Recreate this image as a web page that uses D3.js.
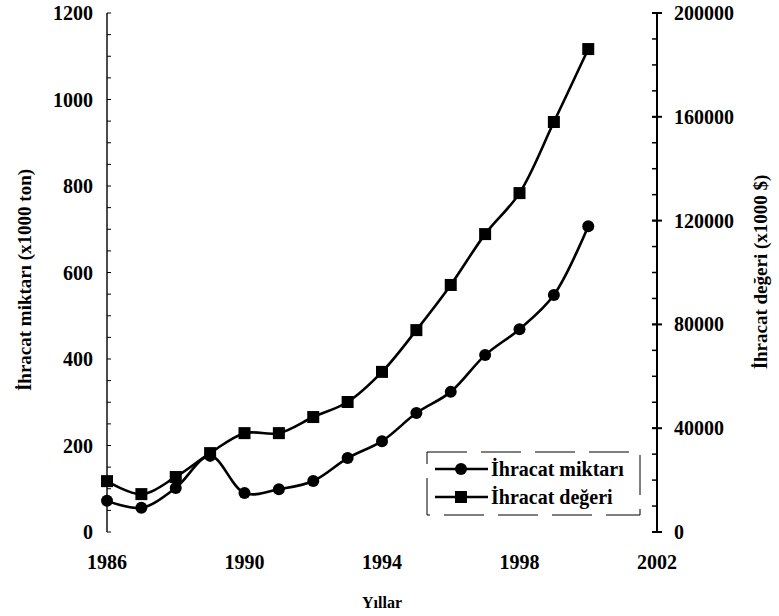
<!DOCTYPE html>
<html>
<head>
<meta charset="utf-8">
<script src="https://cdn.jsdelivr.net/npm/d3@7"></script>
<style>
  html, body { margin: 0; padding: 0; background: #fff; }
  svg { display: block; }
  text { font-family: "Liberation Serif", "Times New Roman", serif; fill: #000; }
</style>
</head>
<body>
<svg id="chart" width="779" height="616"></svg>
<script>
// ---- data ----
const years = [1986, 1987, 1988, 1989, 1990, 1991, 1992, 1993, 1994, 1995, 1996, 1997, 1998, 1999, 2000];
const miktar = [72, 56, 102, 176, 90, 99, 118, 171, 210, 275, 324, 409, 469, 548, 707];           // x1000 ton (left axis)
const deger  = [19600, 14600, 21200, 30400, 38100, 38100, 44300, 50100, 61700, 77800, 95200, 114800, 130600, 158000, 186100]; // x1000 $ (right axis)
const xTicks = [1986, 1990, 1994, 1998, 2002];
const leftTicks = [0, 200, 400, 600, 800, 1000, 1200];
const rightTicks = [0, 40000, 80000, 120000, 160000, 200000];
const labels = {
  left: "İhracat miktarı (x1000 ton)",
  right: "İhracat değeri (x1000 $)",
  x: "Yıllar",
  s1: "İhracat miktarı",
  s2: "İhracat değeri"
};

// ---- layout ----
const svg = d3.select("#chart");
const x = d3.scaleLinear().domain([1986, 2002]).range([107, 657]);
const yL = d3.scaleLinear().domain([0, 1200]).range([532, 13]);
const yR = d3.scaleLinear().domain([0, 200000]).range([532, 13]);
const fontSize = 20;

// left axis
const gL = svg.append("g").attr("transform", `translate(${x(1986)},0)`);
gL.append("line").attr("y1", yL(1200)).attr("y2", yL(0))
  .attr("stroke", "#000").attr("stroke-width", 1.4);
gL.selectAll("line.minor").data(d3.range(0, 1201, 50)).join("line")
  .attr("class", "minor").attr("x1", 0).attr("x2", 4)
  .attr("y1", d => yL(d)).attr("y2", d => yL(d))
  .attr("stroke", "#000").attr("stroke-width", 1);
gL.selectAll("text").data(leftTicks).join("text")
  .attr("x", -14).attr("y", d => yL(d)).attr("dy", "0.35em")
  .attr("text-anchor", "end").attr("font-size", fontSize).attr("font-weight", "bold")
  .text(d => d);

// right axis
const gR = svg.append("g").attr("transform", `translate(${x(2002)},0)`);
gR.append("line").attr("y1", yR(200000)).attr("y2", yR(0))
  .attr("stroke", "#000").attr("stroke-width", 2);
gR.selectAll("line.minor").data(d3.range(0, 200001, 10000)).join("line")
  .attr("class", "minor").attr("x1", -5).attr("x2", 0)
  .attr("y1", d => yR(d)).attr("y2", d => yR(d))
  .attr("stroke", "#000").attr("stroke-width", 1.5);
gR.selectAll("line.major").data(rightTicks).join("line")
  .attr("class", "major").attr("x1", -5).attr("x2", 5)
  .attr("y1", d => yR(d)).attr("y2", d => yR(d))
  .attr("stroke", "#000").attr("stroke-width", 2);
gR.selectAll("text").data(rightTicks).join("text")
  .attr("x", 17).attr("y", d => yR(d)).attr("dy", "0.35em")
  .attr("text-anchor", "start").attr("font-size", fontSize).attr("font-weight", "bold")
  .text(d => d);

// x tick labels
svg.append("g").selectAll("text").data(xTicks).join("text")
  .attr("x", d => x(d)).attr("y", 569)
  .attr("text-anchor", "middle").attr("font-size", fontSize).attr("font-weight", "bold")
  .text(d => d);

// axis titles
svg.append("text").attr("x", x(1994)).attr("y", 608).attr("text-anchor", "middle")
  .attr("font-size", 16).attr("font-weight", "bold").text(labels.x);
svg.append("text").attr("transform", "translate(31,280) rotate(-90)")
  .attr("text-anchor", "middle").attr("font-size", 19).attr("font-weight", "bold").text(labels.left);
svg.append("text").attr("transform", "translate(767,272) rotate(-90)")
  .attr("text-anchor", "middle").attr("font-size", 19).attr("font-weight", "bold").text(labels.right);

// series
const lineL = d3.line().x((d, i) => x(years[i])).y(d => yL(d)).curve(d3.curveCatmullRom.alpha(0.5));
const lineR = d3.line().x((d, i) => x(years[i])).y(d => yR(d)).curve(d3.curveCatmullRom.alpha(0.5));

svg.append("path").attr("d", lineR(deger)).attr("fill", "none").attr("stroke", "#000").attr("stroke-width", 2.6);
svg.append("path").attr("d", lineL(miktar)).attr("fill", "none").attr("stroke", "#000").attr("stroke-width", 2.6);

svg.append("g").selectAll("rect").data(deger).join("rect")
  .attr("x", (d, i) => x(years[i]) - 6).attr("y", d => yR(d) - 6)
  .attr("width", 12).attr("height", 12).attr("fill", "#000");
svg.append("g").selectAll("circle").data(miktar).join("circle")
  .attr("cx", (d, i) => x(years[i])).attr("cy", d => yL(d)).attr("r", 6).attr("fill", "#000");

// legend
const lg = svg.append("g");
lg.append("rect").attr("x", 427).attr("y", 452).attr("width", 213).attr("height", 63)
  .attr("fill", "none").attr("stroke", "#000").attr("stroke-width", 1).attr("stroke-dasharray", "40,14");
const items = [
  { label: labels.s1, shape: "circle", y: 469 },
  { label: labels.s2, shape: "square", y: 497 }
];
items.forEach(it => {
  lg.append("line").attr("x1", 435).attr("x2", 488).attr("y1", it.y).attr("y2", it.y)
    .attr("stroke", "#000").attr("stroke-width", 2.6);
  if (it.shape === "circle") {
    lg.append("circle").attr("cx", 461).attr("cy", it.y).attr("r", 6).attr("fill", "#000");
  } else {
    lg.append("rect").attr("x", 455).attr("y", it.y - 6).attr("width", 12).attr("height", 12).attr("fill", "#000");
  }
  lg.append("text").attr("x", 491).attr("y", it.y).attr("dy", "0.35em")
    .attr("font-size", 20).attr("font-weight", "bold").text(it.label);
});
</script>
</body>
</html>
